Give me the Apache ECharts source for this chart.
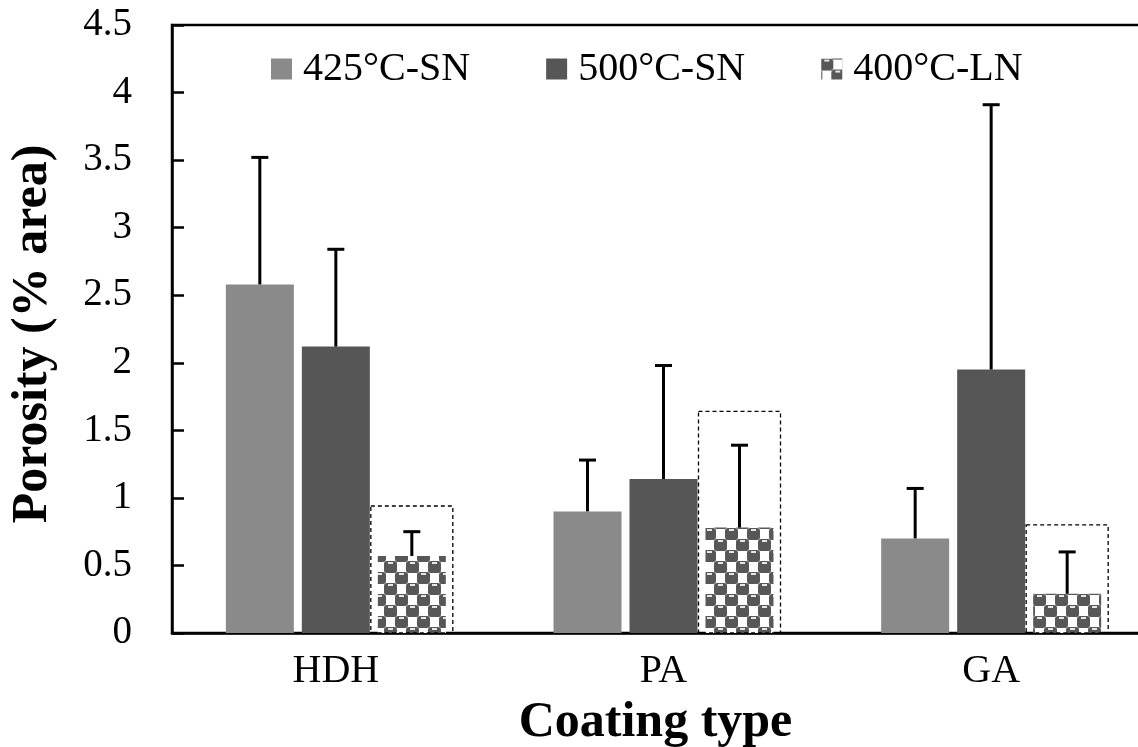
<!DOCTYPE html>
<html>
<head>
<meta charset="utf-8">
<script src="https://cdn.jsdelivr.net/npm/echarts@6/dist/echarts.min.js"></script>
<style>
html,body{margin:0;padding:0;background:#fff;overflow:hidden;}
#chart{width:1138px;height:747px;}
</style>
</head>
<body>
<div id="chart"></div>
<script>
// ---- data ----
const categories = ['HDH', 'PA', 'GA'];
const seriesNames = ['425°C-SN', '500°C-SN', '400°C-LN'];
const values425 = [2.58, 0.90, 0.70];
const values500 = [2.12, 1.14, 1.95];
const values400 = [0.57, 0.78, 0.29];
const err425 = [0.94, 0.38, 0.37];
const err500 = [0.72, 0.84, 1.96];
const err400 = [0.18, 0.61, 0.31];
const box400 = [0.94, 1.64, 0.80];
const yTicks = { min: 0, max: 4.5, interval: 0.5 };

// ---- styling constants ----
const FONT = '"Liberation Serif", "Times New Roman", serif';
const BAR_W = 68;
const BAR_GAP = 8;
const STEP = BAR_W + BAR_GAP;
const BOX_W = 82;

function makePattern() {
  const c = document.createElement('canvas');
  c.width = 22; c.height = 22;
  const g = c.getContext('2d');
  g.fillStyle = '#ffffff';
  g.fillRect(0, 0, 22, 22);
  const dark = '#575757';
  function blob(x, y) {
    g.fillStyle = dark;
    g.beginPath();
    const w = 13, h = 12, r = 3;
    g.moveTo(x + r, y);
    g.lineTo(x + w - r, y);
    g.quadraticCurveTo(x + w, y, x + w, y + r);
    g.lineTo(x + w, y + h - r);
    g.quadraticCurveTo(x + w, y + h, x + w - r, y + h);
    g.lineTo(x + r, y + h);
    g.quadraticCurveTo(x, y + h, x, y + h - r);
    g.lineTo(x, y + r);
    g.quadraticCurveTo(x, y, x + r, y);
    g.fill();
    g.fillStyle = '#e6e6e6';
    g.fillRect(x + 4, y + 1, 5, 2);
  }
  blob(-1, 0);
  blob(10, 11);
  blob(-12, 11);
  blob(10, -11);
  blob(21, 0);
  blob(-1, 22);
  return c;
}
const patternFill = { image: makePattern(), repeat: 'repeat' };

const barColors = ['#8a8a8a', '#565656', patternFill];
const barValues = [values425, values500, values400];
const errValues = [err425, err500, err400];

const series = barValues.map((vals, i) => ({
  name: seriesNames[i],
  type: 'bar',
  data: vals,
  barWidth: BAR_W,
  barGap: (BAR_GAP / BAR_W * 100).toFixed(2) + '%',
  itemStyle: { color: barColors[i] },
  z: 2
}));

// dashed box around 400°C-LN bars
series.push({
  type: 'custom',
  name: 'box',
  data: box400.map((v, i) => [i, v]),
  z: 3,
  renderItem: function (params, api) {
    const top = api.coord([api.value(0), api.value(1)]);
    const base = api.coord([api.value(0), 0]);
    const cx = top[0] + STEP;
    return {
      type: 'rect',
      shape: { x: cx - BOX_W / 2, y: top[1], width: BOX_W, height: base[1] - top[1] },
      style: { fill: 'none', stroke: '#000', lineWidth: 1.3, lineDash: [4, 3] }
    };
  }
});

// error bars (upper only)
errValues.forEach((errs, si) => {
  series.push({
    type: 'custom',
    name: 'err' + si,
    data: errs.map((e, i) => [i, barValues[si][i], barValues[si][i] + e]),
    z: 5,
    renderItem: function (params, api) {
      const p0 = api.coord([api.value(0), api.value(1)]);
      const p1 = api.coord([api.value(0), api.value(2)]);
      const cx = p0[0] + (si - 1) * STEP;
      return {
        type: 'group',
        children: [
          { type: 'line', shape: { x1: cx, y1: p0[1], x2: cx, y2: p1[1] }, style: { stroke: '#000', lineWidth: 3 } },
          { type: 'line', shape: { x1: cx - 8.5, y1: p1[1], x2: cx + 8.5, y2: p1[1] }, style: { stroke: '#000', lineWidth: 3 } }
        ]
      };
    }
  });
});

const chart = echarts.init(document.getElementById('chart'), null, { renderer: 'canvas' });
chart.setOption({
  animation: false,
  backgroundColor: '#ffffff',
  textStyle: { fontFamily: FONT },
  grid: {
    left: 172, top: 25, width: 983, height: 608,
    outerBoundsMode: 'none',
    containLabel: false,
    show: true, borderColor: '#000', borderWidth: 2.5, backgroundColor: 'transparent'
  },
  legend: {
    data: seriesNames,
    left: 266, top: 44,
    itemWidth: 21, itemHeight: 21,
    itemGap: 76,
    icon: 'rect',
    textStyle: { fontFamily: FONT, fontSize: 40, color: '#000', padding: [0, 0, 0, 6], lineHeight: 40 }
  },
  xAxis: {
    type: 'category',
    data: categories,
    boundaryGap: true,
    axisLine: { lineStyle: { color: '#000', width: 2.5 } },
    axisTick: { inside: true, length: 11, lineStyle: { color: '#000', width: 2.5 } },
    axisLabel: { fontFamily: FONT, fontSize: 40, color: '#000', margin: 18 },
    name: 'Coating type',
    nameLocation: 'middle',
    nameGap: 65,
    nameTextStyle: { fontFamily: FONT, fontSize: 50, fontWeight: 'bold', color: '#000', padding: [0, 16, 0, 0] }
  },
  yAxis: {
    type: 'value',
    min: yTicks.min, max: yTicks.max, interval: yTicks.interval,
    splitLine: { show: false },
    axisLine: { show: true, lineStyle: { color: '#000', width: 2.5 } },
    axisTick: { show: true, inside: true, length: 12, lineStyle: { color: '#000', width: 2.5 } },
    axisLabel: { fontFamily: FONT, fontSize: 39, color: '#000', margin: 40 },
    name: 'Porosity (% area)',
    nameLocation: 'middle',
    nameRotate: 90,
    nameGap: 114,
    nameTextStyle: { fontFamily: FONT, fontSize: 50, fontWeight: 'bold', color: '#000', padding: [0, 10, 0, 0] }
  },
  series: series
});
</script>
</body>
</html>
